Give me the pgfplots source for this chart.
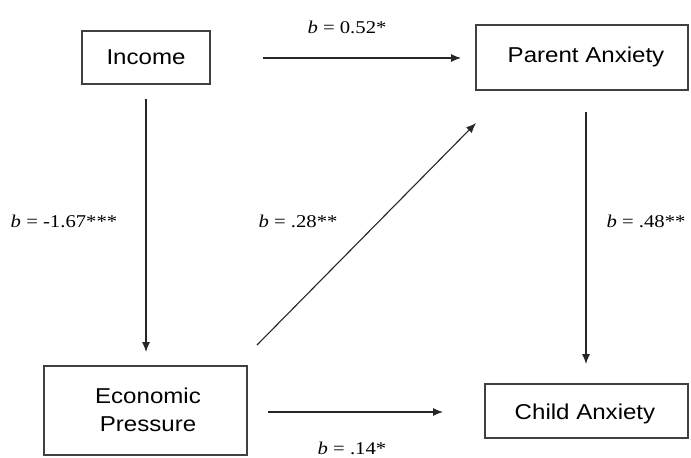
\documentclass[border=0pt]{standalone}
\usepackage{pgfplots}
\pgfplotsset{compat=1.18}
\usepackage{fontspec}
\setmainfont{Liberation Serif}
\newfontfamily\arial{Liberation Sans}
\usetikzlibrary{arrows.meta}
\newcommand{\boxtxt}[1]{\scalebox{1.12}[1]{\fontsize{21.5}{24}\arial #1}}
\newcommand{\coef}[1]{\scalebox{1.15}[1]{\fontsize{18}{20}\selectfont\textit{b} = #1}}
\begin{document}
\begin{tikzpicture}
\begin{axis}[width=691pt,height=456pt,scale only axis,
  xmin=0,xmax=691,ymin=0,ymax=456,y dir=reverse,hide axis,clip=false]
\path (axis cs:0,0) rectangle (axis cs:691,456);
% boxes
\addplot[black!75,line width=1.4pt,mark=none,line join=miter] coordinates {(82,31)(210,31)(210,84)(82,84)(82,31)(210,31)};
\addplot[black!75,line width=1.4pt,mark=none,line join=miter] coordinates {(476,25)(688,25)(688,90)(476,90)(476,25)(688,25)};
\addplot[black!75,line width=1.4pt,mark=none,line join=miter] coordinates {(44,366)(247,366)(247,455)(44,455)(44,366)(247,366)};
\addplot[black!75,line width=1.4pt,mark=none,line join=miter] coordinates {(485,384)(688,384)(688,438)(485,438)(485,384)(688,384)};
% arrows
\addplot[black!85,line width=1.1pt,mark=none,-{Latex[length=10pt,width=8pt]}] coordinates {(263,58)(461,58)};
\addplot[black!85,line width=1.1pt,mark=none,-{Latex[length=10pt,width=8pt]}] coordinates {(146,99)(146,352)};
\addplot[black!85,line width=1.1pt,mark=none,-{Latex[length=10pt,width=8pt]}] coordinates {(257,345)(476,123)};
\addplot[black!85,line width=1.1pt,mark=none,-{Latex[length=10pt,width=8pt]}] coordinates {(586,112)(586,364)};
\addplot[black!85,line width=1.1pt,mark=none,-{Latex[length=10pt,width=8pt]}] coordinates {(268,412)(443,412)};
% box texts
\node at (axis cs:146,57) {\boxtxt{Income}};
\node at (axis cs:586,57) {\boxtxt{Parent Anxiety}};
\node at (axis cs:148,396) {\boxtxt{Economic}};
\node at (axis cs:148,424) {\boxtxt{Pressure}};
\node at (axis cs:585,414) {\boxtxt{Child Anxiety}};
% coefficients
\node at (axis cs:347,27) {\coef{0.52*}};
\node at (axis cs:64,221) {\coef{-1.67***}};
\node at (axis cs:298,221) {\coef{.28**}};
\node at (axis cs:646,221) {\coef{.48**}};
\node at (axis cs:352,448) {\coef{.14*}};
\end{axis}
\end{tikzpicture}
\end{document}
